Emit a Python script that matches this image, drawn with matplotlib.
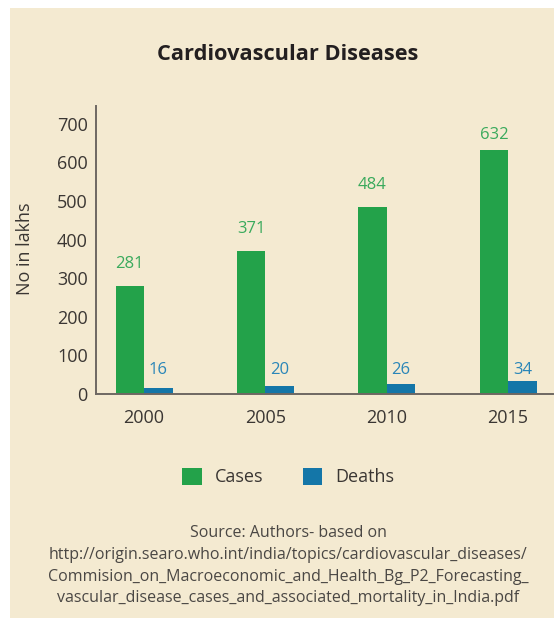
import matplotlib
matplotlib.use("Agg")
import matplotlib.pyplot as plt
from matplotlib.patches import Rectangle, Patch
import numpy as np

years = ["2000", "2005", "2010", "2015"]
cases = [281, 371, 484, 632]
deaths = [16, 20, 26, 34]
yticks = [0, 100, 200, 300, 400, 500, 600, 700]

source_lines = [
    "Source: Authors- based on",
    "http://origin.searo.who.int/india/topics/cardiovascular_diseases/",
    "Commision_on_Macroeconomic_and_Health_Bg_P2_Forecasting_",
    "vascular_disease_cases_and_associated_mortality_in_India.pdf",
]

cream = "#F4EAD1"
green = "#23A24A"
blue = "#1476A8"
green_txt = "#3AAA5C"
blue_txt = "#2A86B8"
dark = "#3A3633"

plt.rcParams['font.family'] = ['Open Sans', 'DejaVu Sans']

W, H = 554, 624
fig = plt.figure(figsize=(W / 100, H / 100), dpi=100, facecolor="white")
# cream panel, thin white border on top, left and bottom
fig.patches.append(Rectangle((10 / W, 1 - 618 / H), (W - 10) / W, (618 - 8) / H,
                             transform=fig.transFigure, facecolor=cream,
                             edgecolor="none", zorder=-10))

ax = fig.add_axes([96 / W, 1 - 394 / H, (553 - 96) / W, (394 - 106) / H])
ax.set_facecolor("none")

x = np.arange(len(years))
w = 0.235
ax.bar(x - w / 2, cases, w, color=green, label="Cases")
ax.bar(x + w / 2, deaths, w, color=blue, label="Deaths")

# label offsets (the last one sits closer to its bar in the original)
case_off = [56, 56, 57, 39]
for xi, c, d, off in zip(x, cases, deaths, case_off):
    ax.text(xi - w / 2, c + off, str(c), ha="center", va="center",
            color=green_txt, fontsize=12)
    ax.text(xi + w / 2, 62, str(d), ha="center", va="center",
            color=blue_txt, fontsize=12)

ax.set_xlim(-0.396, 3.37)
ax.set_ylim(0, 746)
ax.set_yticks(yticks)
ax.set_xticks(x)
ax.set_xticklabels(years)
ax.tick_params(axis="both", length=0, labelsize=13, colors=dark)
ax.tick_params(axis="y", pad=6)
ax.tick_params(axis="x", pad=11)
for s in ["top", "right"]:
    ax.spines[s].set_visible(False)
for s in ["left", "bottom"]:
    ax.spines[s].set_color("#6E6863")
    ax.spines[s].set_linewidth(1.4)

fig.text(25 / W, 1 - 249 / H, "No in lakhs", rotation=90, ha="center",
         va="center", fontsize=13, color=dark)
fig.text(288 / W, 1 - 55 / H, "Cardiovascular Diseases", ha="center",
         va="center", fontsize=15.7, fontweight="bold", color="#231F20")

handles = [Patch(facecolor=green, label="Cases"), Patch(facecolor=blue, label="Deaths")]
fig.legend(handles=handles, loc="center", bbox_to_anchor=(288 / W, 1 - 477 / H),
           ncol=2, frameon=False, fontsize=13, handlelength=1.1, handleheight=1.1,
           columnspacing=2.2, handletextpad=0.7, labelcolor=dark)

for i, line in enumerate(source_lines):
    fig.text(288 / W, 1 - (533 + 21.8 * i) / H, line, ha="center", va="center",
             fontsize=11.5, color="#4A4744")

fig.savefig("out.png", dpi=100, facecolor="white")
